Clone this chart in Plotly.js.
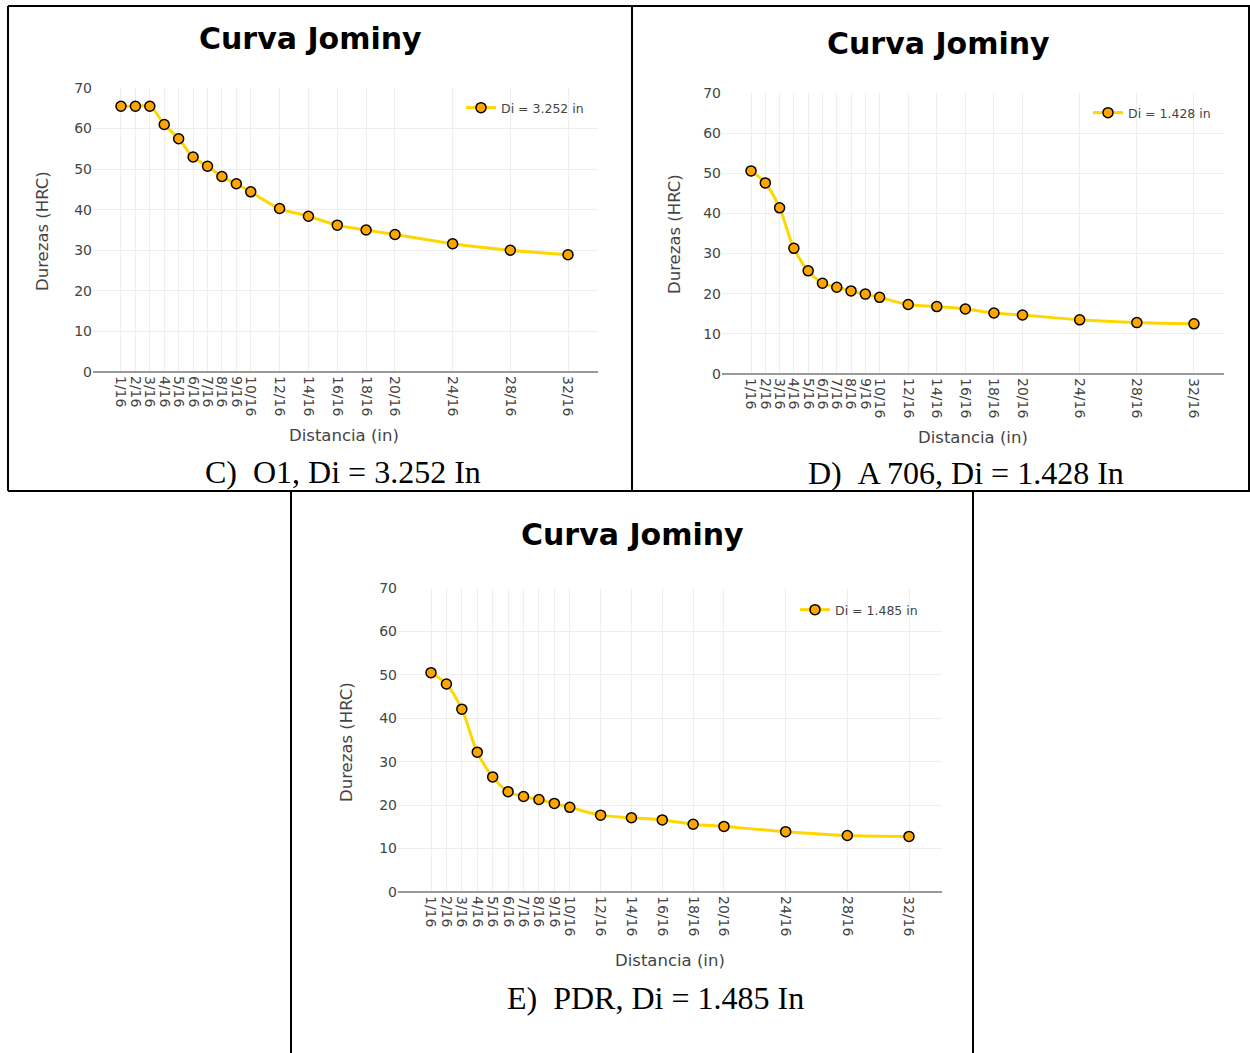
<!DOCTYPE html>
<html>
<head>
<meta charset="utf-8">
<script src="https://cdn.plot.ly/plotly-3.0.1.min.js"></script>
<style>
  html, body { margin: 0; padding: 0; background: #fff; }
  #chart { width: 1250px; height: 1053px; }
</style>
</head>
<body>
<div id="chart"></div>
<script>
// ---- data ----
const distancia = [1, 2, 3, 4, 5, 6, 7, 8, 9, 10, 12, 14, 16, 18, 20, 24, 28, 32];
const tickLabels = ['1/16', '2/16', '3/16', '4/16', '5/16', '6/16', '7/16', '8/16', '9/16', '10/16',
                    '12/16', '14/16', '16/16', '18/16', '20/16', '24/16', '28/16', '32/16'];
const durezaO1   = [65.5, 65.5, 65.5, 61.0, 57.5, 53.0, 50.7, 48.2, 46.4, 44.4, 40.3, 38.4, 36.2, 35.0, 33.9, 31.6, 30.0, 28.9];
const durezaA706 = [50.6, 47.6, 41.4, 31.3, 25.7, 22.6, 21.6, 20.7, 19.9, 19.1, 17.3, 16.8, 16.2, 15.2, 14.7, 13.5, 12.8, 12.5];
const durezaPDR  = [50.5, 47.9, 42.1, 32.2, 26.5, 23.1, 22.0, 21.3, 20.4, 19.5, 17.7, 17.1, 16.6, 15.6, 15.1, 13.9, 13.0, 12.8];
const seriesNames = ['Di = 3.252 in', 'Di = 1.428 in', 'Di = 1.485 in'];
const chartTitle = 'Curva Jominy';
const xTitle = 'Distancia (in)';
const yTitle = 'Durezas (HRC)';
const captions = ['C)\u00a0\u00a0O1, Di = 3.252 In', 'D)\u00a0\u00a0A 706, Di = 1.428 In', 'E)\u00a0\u00a0PDR, Di = 1.485 In'];

// ---- layout helpers ----
const W = 1250, H = 1053;
const fx = x => x / W;
const fy = y => 1 - y / H;

const panels = [
  { data: durezaO1,   box: { l: 93,  r: 598,  t: 88,  b: 372 }, xr: [-0.94, 34.08],
    title: [310, 38], xt: [344, 436], yt: [42, 231], leg: [461, 108], cap: [343, 472] },
  { data: durezaA706, box: { l: 722, r: 1224, t: 93,  b: 374 }, xr: [-1.03, 34.1],
    title: [938, 43], xt: [973, 437], yt: [674, 234], leg: [1088, 113], cap: [966, 473] },
  { data: durezaPDR,  box: { l: 398, r: 942,  t: 588, b: 892 }, xr: [-1.14, 34.14],
    title: [632, 534], xt: [670, 960], yt: [346, 742], leg: [795, 610], cap: [655, 998] }
];

const tickFont = { family: 'DejaVu Sans, Verdana, sans-serif', size: 14, color: '#444' };
const traces = [];
const layout = {
  width: W, height: H,
  margin: { l: 0, r: 0, t: 0, b: 0 },
  paper_bgcolor: '#fff', plot_bgcolor: '#fff',
  showlegend: true,
  annotations: [], shapes: []
};

panels.forEach((p, i) => {
  const n = i === 0 ? '' : String(i + 1);
  traces.push({
    x: distancia, y: p.data, name: seriesNames[i],
    type: 'scatter', mode: 'lines+markers',
    xaxis: 'x' + n, yaxis: 'y' + n,
    legend: 'legend' + n,
    line: { color: '#FFD700', width: 3, shape: 'spline' },
    marker: { color: '#FFA500', size: 10, line: { color: '#000', width: 1.5 } },
    showlegend: true
  });
  layout['xaxis' + n] = {
    domain: [fx(p.box.l), fx(p.box.r)], anchor: 'y' + n,
    range: p.xr, tickmode: 'array', tickvals: distancia, ticktext: tickLabels,
    tickangle: 90, tickfont: tickFont, ticklabelstandoff: 3,
    showgrid: true, gridcolor: '#eee', gridwidth: 1,
    zeroline: false, showline: false, ticks: ''
  };
  layout['yaxis' + n] = {
    domain: [fy(p.box.b), fy(p.box.t)], anchor: 'x' + n,
    range: [0, 70], tickvals: [0, 10, 20, 30, 40, 50, 60, 70],
    tickfont: tickFont, showgrid: true, gridcolor: '#eee', gridwidth: 1,
    zeroline: true, zerolinecolor: '#999', zerolinewidth: 2, showline: false, ticks: ''
  };
  layout['legend' + n] = {
    x: fx(p.leg[0]), y: fy(p.leg[1]), xanchor: 'left', yanchor: 'middle',
    xref: 'paper', yref: 'paper',
    bgcolor: 'rgba(0,0,0,0)', borderwidth: 0,
    font: { family: 'DejaVu Sans, Verdana, sans-serif', size: 12.5, color: '#444' }
  };
  layout.annotations.push(
    { text: chartTitle, x: fx(p.title[0]), y: fy(p.title[1]), xref: 'paper', yref: 'paper',
      xanchor: 'center', yanchor: 'middle', showarrow: false,
      font: { family: 'DejaVu Sans, Verdana, sans-serif', size: 30, weight: 'bold', color: '#000' } },
    { text: xTitle, x: fx(p.xt[0]), y: fy(p.xt[1]), xref: 'paper', yref: 'paper',
      xanchor: 'center', yanchor: 'middle', showarrow: false,
      font: { family: 'DejaVu Sans, Verdana, sans-serif', size: 16.5, color: '#444' } },
    { text: yTitle, x: fx(p.yt[0]), y: fy(p.yt[1]), xref: 'paper', yref: 'paper',
      xanchor: 'center', yanchor: 'middle', showarrow: false, textangle: -90,
      font: { family: 'DejaVu Sans, Verdana, sans-serif', size: 16.5, color: '#444' } },
    { text: captions[i], x: fx(p.cap[0]), y: fy(p.cap[1]), xref: 'paper', yref: 'paper',
      xanchor: 'center', yanchor: 'middle', showarrow: false,
      font: { family: 'Liberation Serif, Times New Roman, serif', size: 32, color: '#000' } }
  );
});

// frame lines around the three panels
const frame = [
  [8, 6, 1250, 6], [8, 491, 1250, 491],
  [8, 6, 8, 491], [632, 6, 632, 491], [1249, 6, 1249, 491],
  [291, 491, 291, 1053], [973, 491, 973, 1053]
];
frame.forEach(f => layout.shapes.push({
  type: 'line', xref: 'paper', yref: 'paper',
  x0: fx(f[0]), y0: fy(f[1]), x1: fx(f[2]), y1: fy(f[3]),
  line: { color: '#000', width: 2 }
}));

Plotly.newPlot('chart', traces, layout, { displayModeBar: false, staticPlot: true });
</script>
</body>
</html>
